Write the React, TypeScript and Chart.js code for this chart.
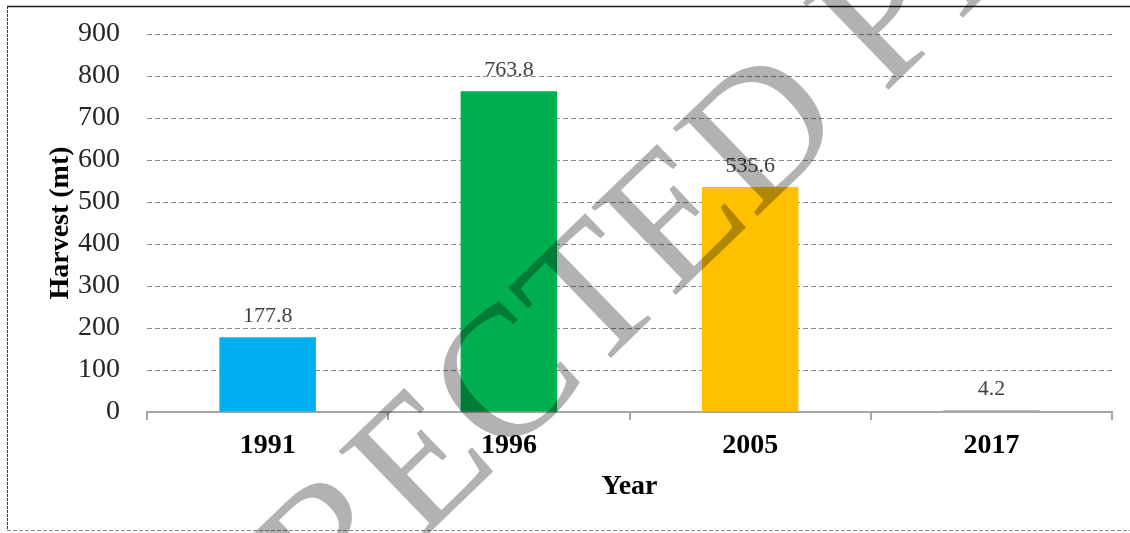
import React, { useEffect, useRef } from "react";
import { Chart, registerables } from "chart.js";

Chart.register(...registerables);

const years: string[] = ["1991", "1996", "2005", "2017"];
const harvest: number[] = [177.8, 763.8, 535.6, 4.2];
const barColors: string[] = ["#00B0F0", "#00B050", "#FFC000", "#A6A6A6"];
const yMin = 0;
const yMax = 900;
const yStep = 100;
const yAxisTitle = "Harvest (mt)";
const xAxisTitle = "Year";
const watermarkText = "UNCORRECTED PROOF";

const SERIF = "'Liberation Serif', 'Times New Roman', serif";

const labelPlugin = {
  id: "valueLabels",
  afterDatasetsDraw(chart: any) {
    const ctx = chart.ctx;
    const meta = chart.getDatasetMeta(0);
    ctx.save();
    ctx.font = `22px ${SERIF}`;
    ctx.fillStyle = "#404040";
    ctx.textAlign = "center";
    ctx.textBaseline = "alphabetic";
    meta.data.forEach((el: any, i: number) => {
      ctx.fillText(harvest[i].toFixed(1), el.x, el.y - 15);
    });
    ctx.restore();
  },
};

const framePlugin = {
  id: "frameAndWatermark",
  afterDraw(chart: any) {
    const ctx = chart.ctx;
    ctx.save();
    ctx.strokeStyle = "#1a1a1a";
    ctx.lineWidth = 1.5;
    ctx.beginPath();
    ctx.moveTo(7, 6.5);
    ctx.lineTo(1130, 6.5);
    ctx.stroke();
    ctx.setLineDash([3, 1]);
    ctx.strokeStyle = "#333";
    ctx.lineWidth = 1;
    ctx.beginPath();
    ctx.moveTo(7.5, 6);
    ctx.lineTo(7.5, 531);
    ctx.stroke();
    ctx.strokeStyle = "#888";
    ctx.setLineDash([4, 2]);
    ctx.beginPath();
    ctx.moveTo(7, 530.5);
    ctx.lineTo(1130, 530.5);
    ctx.stroke();
    ctx.restore();

    ctx.save();
    ctx.globalCompositeOperation = "multiply";
    ctx.font = `186px ${SERIF}`;
    ctx.fillStyle = "rgb(178,178,178)";
    ctx.textBaseline = "middle";
    ctx.textAlign = "left";
    const pre = ctx.measureText("UNCORRECTE").width;
    const dW = ctx.measureText("D").width;
    ctx.translate(768, 138);
    ctx.rotate((-44 * Math.PI) / 180);
    ctx.fillText(watermarkText, -(pre + dW / 2), 0);
    ctx.restore();
  },
};

export default function App() {
  const canvasRef = useRef<HTMLCanvasElement | null>(null);

  useEffect(() => {
    if (!canvasRef.current) return;
    const chart = new Chart(canvasRef.current, {
      type: "bar",
      data: {
        labels: years,
        datasets: [
          {
            data: harvest,
            backgroundColor: barColors,
            borderWidth: 0,
            barPercentage: 0.4,
            categoryPercentage: 1,
          },
        ],
      },
      options: {
        responsive: false,
        animation: false,
        layout: { padding: { left: 40, top: 34, right: 18, bottom: 25 } },
        plugins: {
          legend: { display: false },
          tooltip: { enabled: false },
          title: { display: false },
        },
        scales: {
          x: {
            type: "category",
            grid: {
              display: true,
              drawOnChartArea: false,
              drawTicks: true,
              tickLength: 8,
              color: "#a6a6a6",
              lineWidth: 2,
            },
            border: { display: true, color: "#a6a6a6", width: 2 },
            ticks: {
              font: { family: SERIF, size: 28, weight: "bold" },
              color: "#000",
              padding: 9,
            },
            title: {
              display: true,
              text: xAxisTitle,
              font: { family: SERIF, size: 28, weight: "bold" },
              color: "#000",
              padding: { top: 4, bottom: 4 },
            },
            afterFit: (s: any) => {
              s.height = 96;
            },
          },
          y: {
            min: yMin,
            max: yMax,
            ticks: {
              stepSize: yStep,
              font: { family: SERIF, size: 28 },
              color: "#262626",
              padding: 27,
            },
            grid: {
              drawTicks: false,
              lineWidth: 1,
              color: (c: any) => (c.tick && c.tick.value === 0 ? "rgba(0,0,0,0)" : "#8c8c8c"),
            },
            border: { display: false, dash: [5, 3] },
            title: {
              display: true,
              text: yAxisTitle,
              font: { family: SERIF, size: 28, weight: "bold" },
              color: "#000",
              padding: { top: 4, bottom: 4 },
            },
            afterFit: (s: any) => {
              s.width = 107;
              s.paddingTop = 0;
              s.paddingBottom = 0;
            },
          },
        },
      },
      plugins: [labelPlugin, framePlugin],
    });
    return () => chart.destroy();
  }, []);

  return (
    <div style={{ position: "absolute", left: 0, top: 0, width: 1130, height: 533, background: "#fff" }}>
      <canvas ref={canvasRef} width={1130} height={533} style={{ display: "block" }} />
    </div>
  );
}
